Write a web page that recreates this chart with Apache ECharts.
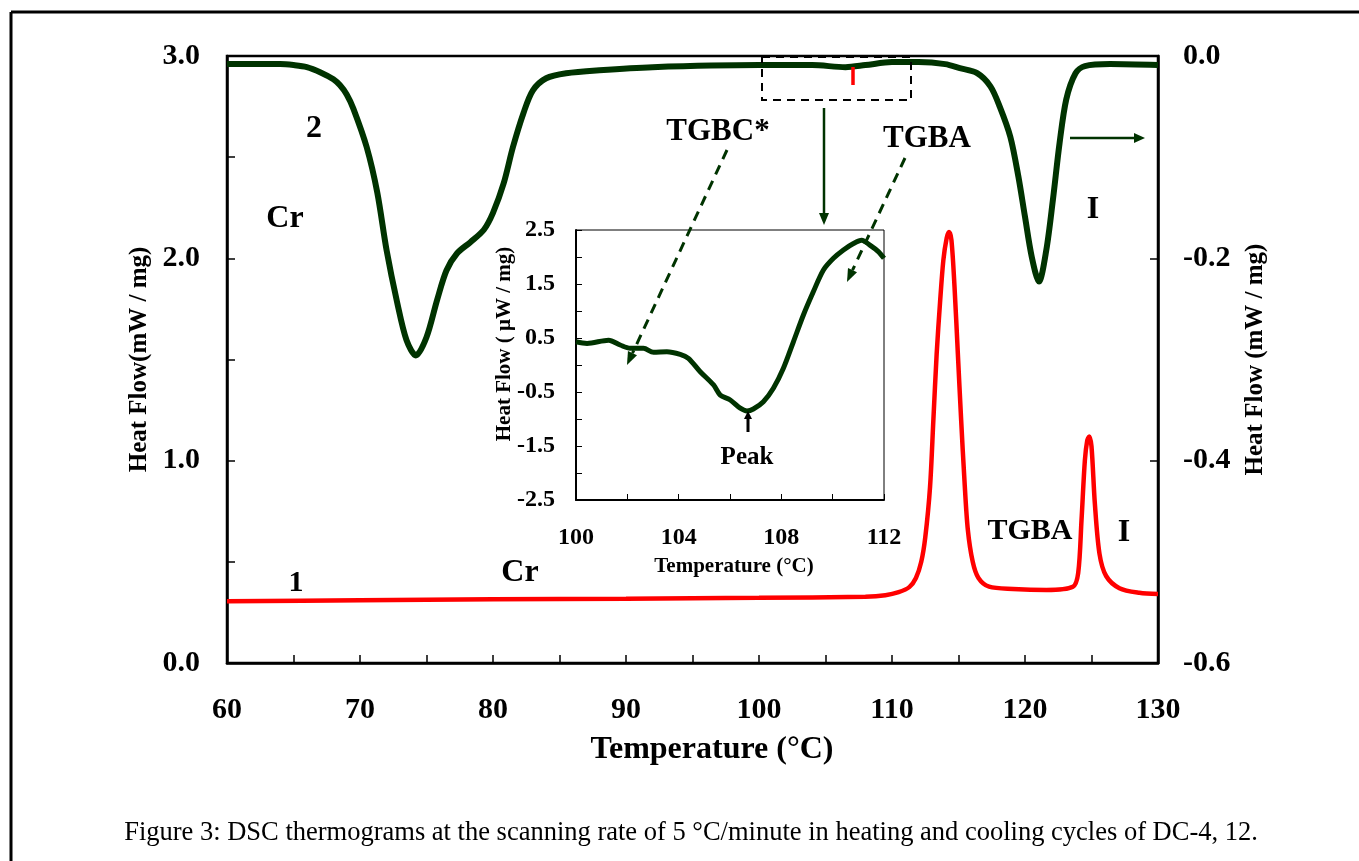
<!DOCTYPE html>
<html>
<head>
<meta charset="utf-8">
<title>DSC thermograms DC-4, 12</title>
<script src="https://cdn.jsdelivr.net/npm/echarts@6/dist/echarts.min.js"></script>
<style>
  html, body { margin: 0; padding: 0; background: #fff; }
  #chart { width: 1359px; height: 861px; }
</style>
</head>
<body>
<div id="chart"></div>
<script>
// curve 1 - heating, left axis (mW / mg)
const heatTemp = [60, 70, 80, 90, 100, 108, 109.5, 110.5, 111.3, 111.8, 112.2, 112.5, 112.86, 113.11, 113.36, 113.61,
  113.86, 114.11, 114.29, 114.47, 114.7, 114.95, 115.2, 115.45, 115.7, 116.07, 116.5, 117.3, 119.1, 121.6, 123.6,
  124.0, 124.25, 124.5, 124.68, 124.83, 125.0, 125.25, 125.6, 126.1, 127.1, 128.6, 130]
const heatFlow = [0.305, 0.31, 0.315, 0.318, 0.322, 0.328, 0.335, 0.35, 0.375, 0.42, 0.5, 0.62, 0.87, 1.2, 1.53, 1.78,
  1.99, 2.1, 2.13, 2.09, 1.86, 1.53, 1.2, 0.9, 0.66, 0.5, 0.42, 0.377, 0.366, 0.361, 0.377,
  0.445, 0.707, 1.0, 1.1, 1.12, 1.07, 0.79, 0.54, 0.43, 0.37, 0.347, 0.341]

// curve 2 - cooling, right axis (mW / mg)
const coolTemp = [60, 62, 64, 65, 66, 67, 68, 68.5, 69, 69.5, 70.5, 71.3, 72.0, 72.8, 73.5, 74.2, 75.0, 75.8, 76.5,
  77.3, 78.3, 79.3, 80.0, 80.8, 81.5, 82.3, 83.0, 84.0, 85.5, 88, 92, 100, 104, 106.5, 108, 110, 112, 114, 115.1,
  116.4, 117.4, 118.1, 118.9, 119.5, 120.0, 120.5, 121.05, 121.6, 122.1, 122.6, 123.1, 123.8, 124.5, 126.4, 130]
const coolFlow = [-0.008, -0.008, -0.008, -0.009, -0.011, -0.016, -0.023, -0.029, -0.038, -0.052, -0.09, -0.135,
  -0.192, -0.244, -0.281, -0.296, -0.278, -0.241, -0.212, -0.195, -0.184, -0.172, -0.155, -0.126, -0.09, -0.056,
  -0.034, -0.022, -0.017, -0.014, -0.011, -0.009, -0.009, -0.011, -0.009, -0.006, -0.006, -0.008, -0.012, -0.017,
  -0.03, -0.05, -0.08, -0.119, -0.159, -0.198, -0.223, -0.192, -0.142, -0.086, -0.043, -0.017, -0.01, -0.008, -0.009]

// inset - cooling curve around the TGBC* -> TGBA transition (µW / mg)
const insetTemp = [100, 100.43, 101.27, 101.72, 102.11, 102.63, 103.02, 103.54, 104.06, 104.38, 104.84, 105.36,
  105.62, 106.01, 106.4, 106.66, 106.91, 107.3, 107.69, 108.08, 108.47, 108.86, 109.25, 109.64, 110.03, 110.42,
  110.81, 111.13, 111.45, 111.78, 112]
const insetFlow = [0.43, 0.4, 0.46, 0.37, 0.31, 0.31, 0.235, 0.247, 0.198, 0.124, -0.124, -0.37, -0.556, -0.648,
  -0.8, -0.85, -0.815, -0.68, -0.43, -0.06, 0.43, 0.926, 1.36, 1.76, 1.976, 2.13, 2.25, 2.31, 2.22, 2.1, 1.976]

// tick labels that are printed (other ticks stay unlabeled)
const mainXLabels = [60, 70, 80, 90, 100, 110, 120, 130]
const leftYLabels = [0, 1, 2, 3]
const rightYLabels = [-0.6, -0.4, -0.2, 0]
const insetXLabels = [100, 104, 108, 112]
const insetYLabels = [-2.5, -1.5, -0.5, 0.5, 1.5, 2.5]

const FONT = "'Liberation Serif', 'Times New Roman', serif"
const GREEN = '#003300'
const RED = '#ff0000'

const pick = (list, digits) => v => {
  if (!list.some(l => Math.abs(l - v) < 1e-6)) return ''
  if (Math.abs(v) < 1e-9) v = 0
  return digits ? v.toFixed(digits) : String(Math.round(v))
}

const tickStyle = (size) => ({fontFamily: FONT, fontWeight: 'bold', fontSize: size, color: '#000'})

// annotation helpers
const txt = (text, x, y, size, extra) => Object.assign({
  type: 'text', x, y, z: 20,
  style: {text, font: `bold ${size}px ${FONT}`, fill: '#000', textAlign: 'center', textVerticalAlign: 'middle'}
}, extra || {})

const arrow = (x1, y1, x2, y2, color, w, dash, hl, hw) => {
  const len = Math.hypot(x2 - x1, y2 - y1)
  const ux = (x2 - x1) / len, uy = (y2 - y1) / len
  const bx = x2 - ux * hl, by = y2 - uy * hl
  return [
    {type: 'line', z: 20, shape: {x1, y1, x2: bx, y2: by}, style: {stroke: color, lineWidth: w, lineDash: dash}},
    {type: 'polygon', z: 20, shape: {points: [[x2, y2], [bx - uy * hw, by + ux * hw], [bx + uy * hw, by - ux * hw]]},
      style: {fill: color}}
  ]
}

const chart = echarts.init(document.getElementById('chart'))

const option = {
  animation: false,
  backgroundColor: '#fff',
  grid: [
    {left: 227, top: 56, width: 931, height: 607, show: true, borderColor: '#000', borderWidth: 2.5},
    {left: 576, top: 230, width: 308, height: 270, show: true, borderColor: '#000', borderWidth: 1, backgroundColor: '#fff'}
  ],
  xAxis: [
    {
      type: 'value', gridIndex: 0, min: 60, max: 130, interval: 5,
      axisLine: {show: true, onZero: false, lineStyle: {color: '#000', width: 2.5}},
      axisTick: {inside: true, length: 8, lineStyle: {color: '#000', width: 1.5}},
      axisLabel: Object.assign({margin: 32, formatter: pick(mainXLabels, 0)}, tickStyle(30)),
      splitLine: {show: false}
    },
    {
      type: 'value', gridIndex: 1, min: 100, max: 112, interval: 2,
      axisLine: {show: true, onZero: false, lineStyle: {color: '#000', width: 2}},
      axisTick: {inside: true, length: 6, lineStyle: {color: '#000', width: 1}},
      axisLabel: Object.assign({margin: 26, formatter: pick(insetXLabels, 0)}, tickStyle(24)),
      splitLine: {show: false}
    }
  ],
  yAxis: [
    {
      type: 'value', gridIndex: 0, min: 0, max: 3, interval: 0.5,
      name: 'Heat Flow(mW / mg)', nameLocation: 'middle', nameGap: 67,
      nameTextStyle: {fontFamily: FONT, fontWeight: 'bold', fontSize: 25, color: '#000'},
      axisLine: {show: true, onZero: false, lineStyle: {color: '#000', width: 2.5}},
      axisTick: {inside: true, length: 8, lineStyle: {color: '#000', width: 1.5}},
      axisLabel: Object.assign({margin: 27, formatter: pick(leftYLabels, 1)}, tickStyle(30)),
      splitLine: {show: false}
    },
    {
      type: 'value', gridIndex: 0, position: 'right', min: -0.6, max: 0, interval: 0.2,
      name: 'Heat Flow (mW / mg)', nameLocation: 'middle', nameGap: 85, nameRotate: 90,
      nameTextStyle: {fontFamily: FONT, fontWeight: 'bold', fontSize: 25, color: '#000'},
      axisLine: {show: true, onZero: false, lineStyle: {color: '#000', width: 2.5}},
      axisTick: {inside: true, length: 8, lineStyle: {color: '#000', width: 1.5}},
      axisLabel: Object.assign({margin: 25, formatter: pick(rightYLabels, 1)}, tickStyle(30)),
      splitLine: {show: false}
    },
    {
      type: 'value', gridIndex: 1, min: -2.5, max: 2.5, interval: 0.5,
      axisLine: {show: true, onZero: false, lineStyle: {color: '#000', width: 2}},
      axisTick: {inside: true, length: 6, lineStyle: {color: '#000', width: 1}},
      axisLabel: Object.assign({margin: 21, formatter: pick(insetYLabels, 1)}, tickStyle(24)),
      splitLine: {show: false}
    }
  ],
  series: [
    {
      name: '1', type: 'line', xAxisIndex: 0, yAxisIndex: 0, symbol: 'none', smooth: 0.3,
      data: heatTemp.map((t, i) => [t, heatFlow[i]]),
      lineStyle: {color: RED, width: 4.5}
    },
    {
      name: '2', type: 'line', xAxisIndex: 0, yAxisIndex: 1, symbol: 'none', smooth: 0.3,
      data: coolTemp.map((t, i) => [t, coolFlow[i]]),
      lineStyle: {color: GREEN, width: 6}
    },
    {
      name: 'inset', type: 'line', xAxisIndex: 1, yAxisIndex: 2, symbol: 'none', smooth: 0.3,
      data: insetTemp.map((t, i) => [t, insetFlow[i]]),
      lineStyle: {color: GREEN, width: 5}
    }
  ],
  graphic: [
    // page frame
    {type: 'line', z: 20, shape: {x1: 11, y1: 12, x2: 1359, y2: 12}, style: {stroke: '#000', lineWidth: 3}},
    {type: 'line', z: 20, shape: {x1: 11, y1: 12, x2: 11, y2: 861}, style: {stroke: '#000', lineWidth: 3}},
    // zoomed region marker
    {type: 'rect', z: 20, shape: {x: 762, y: 57, width: 149, height: 43},
      style: {fill: 'none', stroke: '#000', lineWidth: 2, lineDash: [8, 6]}},
    {type: 'line', z: 20, shape: {x1: 853, y1: 67, x2: 853, y2: 85}, style: {stroke: RED, lineWidth: 3.5}},
    ...arrow(824, 108, 824, 225, GREEN, 2.5, null, 12, 5),
    ...arrow(727, 150, 627, 365, GREEN, 3, [10, 7], 13, 5),
    ...arrow(905, 158, 847, 282, GREEN, 3, [10, 7], 13, 5),
    ...arrow(1070, 138, 1145, 138, GREEN, 2.5, null, 11, 5),
    ...arrow(748, 432, 748, 411, '#000', 3, null, 8, 4),
    // labels
    txt('2', 314, 129, 32),
    txt('Cr', 285, 219, 32),
    txt('1', 296, 583, 30),
    txt('Cr', 520, 573, 32),
    txt('TGBC*', 718, 132, 31),
    txt('TGBA', 927, 139, 31),
    txt('I', 1093, 210, 32),
    txt('TGBA', 1030, 531, 30),
    txt('I', 1124, 533, 32),
    txt('Peak', 747, 458, 25),
    txt('Temperature (°C)', 712, 750, 32),
    txt('Temperature (°C)', 734, 567, 21),
    txt('Heat Flow ( μW / mg)', 505, 344, 21, {rotation: Math.PI / 2}),
    {type: 'text', x: 691, y: 833, z: 20,
      style: {text: 'Figure 3: DSC thermograms at the scanning rate of 5 °C/minute in heating and cooling cycles of DC-4, 12.',
        font: `26.5px ${FONT}`, fill: '#000', textAlign: 'center', textVerticalAlign: 'middle'}}
  ]
}

chart.setOption(option)
</script>
</body>
</html>
